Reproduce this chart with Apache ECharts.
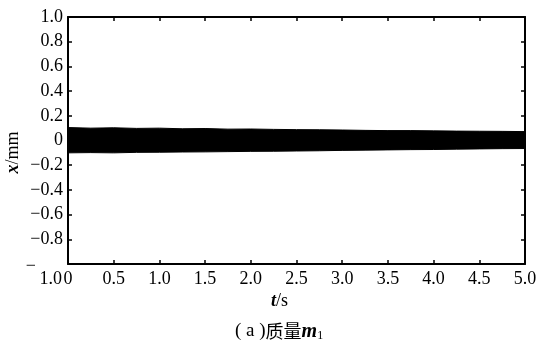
<!DOCTYPE html>
<html>
<head>
<meta charset="utf-8">
<script src="https://cdn.jsdelivr.net/npm/echarts@6/dist/echarts.min.js"></script>
<style>
  html, body { margin: 0; padding: 0; background: #fff; }
  #main { width: 538px; height: 347px; }
</style>
</head>
<body>
<div id="main"></div>
<script>
  // envelope of the dense vibration band (t in s, x in mm)
  var times = [0, 0.25, 0.5, 0.75, 1.0, 1.25, 1.5, 1.75, 2.0, 2.25, 2.5,
               2.75, 3.0, 3.25, 3.5, 3.75, 4.0, 4.25, 4.5, 4.75, 5.0];
  var upper = [0.105, 0.100, 0.103, 0.098, 0.100, 0.095, 0.097, 0.092, 0.093, 0.090, 0.088,
               0.087, 0.085, 0.082, 0.080, 0.080, 0.078, 0.076, 0.075, 0.074, 0.072];
  var lower = [-0.100, -0.098, -0.100, -0.096, -0.095, -0.093, -0.092, -0.090, -0.088, -0.087, -0.085,
               -0.083, -0.080, -0.078, -0.076, -0.074, -0.073, -0.070, -0.068, -0.066, -0.065];

  var font = 'Liberation Serif';
  var ink = '#000';

  function pairs(vals) {
    return times.map(function (t, i) { return [t, vals[i]]; });
  }

  function xLabel(v) {
    return v === 0 ? '0' : v.toFixed(1);
  }
  function yLabel(v) {
    if (Math.abs(v) < 1e-9) return '0';
    if (v < -0.999) return '';
    return (v < 0 ? '\u2212' : '') + Math.abs(v).toFixed(1);
  }
  // matplotlib-like broken "-1.0" label: dash at the tick, "1.0" just below
  function yMinLabel(v) {
    return v < -0.999 ? '{m|\u2212}{w|}\n{n|1.0}' : '';
  }

  var axisLine = { show: true, onZero: false, lineStyle: { color: ink, width: 2 } };
  var axisTick = { show: true, inside: true, length: 4, lineStyle: { color: ink, width: 1.5 } };

  var myChart = echarts.init(document.getElementById('main'));
  var option = {
    animation: false,
    backgroundColor: '#fff',
    title: {
      text: '{p|( a )}{c|质量}{m|m}{s|1}',
      left: 230,
      top: 316,
      textStyle: {
        fontWeight: 'normal',
        rich: {
          p: { fontFamily: font, fontSize: 19, fontWeight: 'normal', color: ink },
          c: { fontFamily: 'Noto Sans CJK SC', fontSize: 18, fontWeight: 'normal', color: ink },
          m: { fontFamily: font, fontSize: 20, fontStyle: 'italic', fontWeight: 'bold', color: ink },
          s: { fontFamily: font, fontSize: 12, fontWeight: 'normal', color: ink, padding: [9, 0, 0, 0] }
        }
      }
    },
    grid: { left: 68, right: 13, top: 17, bottom: 83, containLabel: false, outerBoundsMode: 'none' },
    xAxis: [
      {
        type: 'value', min: 0, max: 5, interval: 0.5,
        name: '{i|t}{r|/s}', nameLocation: 'middle', nameGap: 28, nameMoveOverlap: false,
        nameTextStyle: {
          padding: [0, 34, 0, 0],
          rich: {
            i: { fontFamily: font, fontSize: 18, fontStyle: 'italic', fontWeight: 'bold', color: ink },
            r: { fontFamily: font, fontSize: 18, color: ink }
          }
        },
        axisLine: axisLine, axisTick: axisTick, splitLine: { show: false },
        axisLabel: { formatter: xLabel, fontFamily: font, fontSize: 18, color: ink, margin: 6, hideOverlap: false }
      },
      {
        type: 'value', min: 0, max: 5, interval: 0.5, position: 'top',
        axisLine: axisLine, axisTick: axisTick, splitLine: { show: false },
        axisLabel: { show: false }
      }
    ],
    yAxis: [
      {
        type: 'value', min: -1, max: 1, interval: 0.2,
        name: '{i|x}{r|/mm}', nameLocation: 'middle', nameGap: 46, nameRotate: 90, nameMoveOverlap: false,
        nameTextStyle: {
          padding: [0, 24, 0, 0],
          rich: {
            i: { fontFamily: font, fontSize: 18, fontStyle: 'italic', fontWeight: 'bold', color: ink },
            r: { fontFamily: font, fontSize: 18, color: ink }
          }
        },
        axisLine: axisLine, axisTick: axisTick, splitLine: { show: false },
        axisLabel: {
          formatter: yLabel, fontFamily: font, fontSize: 18, color: ink, margin: 5,
          showMinLabel: false, hideOverlap: false
        }
      },
      {
        type: 'value', min: -1, max: 1, interval: 0.2, position: 'right',
        axisLine: axisLine, axisTick: axisTick, splitLine: { show: false },
        axisLabel: { show: false }
      },
      {
        // carries only the split "-1.0" label
        type: 'value', min: -1, max: 1, interval: 0.2, position: 'left',
        axisLine: { show: false }, axisTick: { show: false }, splitLine: { show: false },
        axisLabel: {
          formatter: yMinLabel, color: ink, margin: 6, showMinLabel: true,
          padding: [18, 0, 0, 0],
          rich: {
            m: { fontFamily: font, fontSize: 18, color: ink, lineHeight: 13 },
            w: { width: 26, lineHeight: 13 },
            n: { fontFamily: font, fontSize: 18, color: ink, lineHeight: 13 }
          }
        }
      }
    ],
    series: [
      {
        name: 'upper', type: 'line', data: pairs(upper),
        showSymbol: false, silent: true,
        lineStyle: { color: ink, width: 1 },
        areaStyle: { color: ink, opacity: 1, origin: -0.03 }
      },
      {
        name: 'lower', type: 'line', data: pairs(lower),
        showSymbol: false, silent: true,
        lineStyle: { color: ink, width: 1 },
        areaStyle: { color: ink, opacity: 1, origin: 0.03 }
      }
    ]
  };
  myChart.setOption(option);
</script>
</body>
</html>
